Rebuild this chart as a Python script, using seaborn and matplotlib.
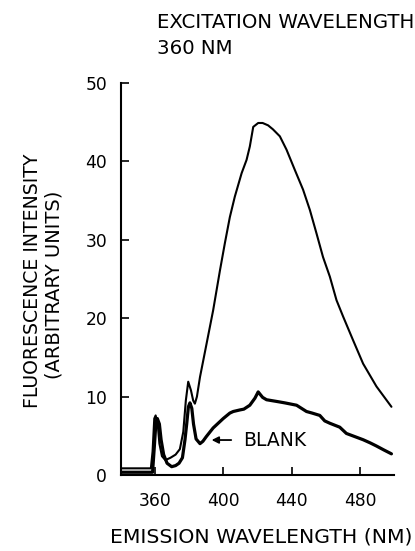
import matplotlib
matplotlib.use("Agg")
import matplotlib.pyplot as plt
import seaborn as sns
import pandas as pd

# Emission spectrum of the sample (excitation at 360 nm)
sample_nm = [340, 357.5, 358.5, 359.5, 360.3, 361.5, 362.5, 364, 366, 369, 372,
             374.5, 376.5, 378, 379.4, 381, 382.3, 383.3, 384.5, 386.3, 390.2,
             394, 398, 400.9, 403.8, 406.7, 410.7, 413.6, 415.5, 417.5, 420.4,
             423, 426.2, 429, 433.1, 437, 441.9, 446.7, 450.7, 454.6, 458.4,
             462.4, 466.3, 470.2, 476, 481.9, 489.7, 498.5]
sample_int = [0.85, 0.85, 3.0, 7.2, 7.6, 6.5, 4.0, 2.4, 1.9, 2.2, 2.6,
              3.3, 5.5, 9.5, 11.9, 10.8, 9.5, 9.1, 10.0, 12.5, 16.8,
              21.0, 26.1, 29.6, 32.9, 35.5, 38.5, 40.2, 41.9, 44.4, 44.9,
              44.9, 44.6, 44.1, 43.2, 41.5, 38.9, 36.4, 33.8, 30.8, 27.8,
              25.3, 22.3, 20.2, 17.2, 14.2, 11.3, 8.7]

# Emission spectrum of the blank
blank_nm = [340, 358.5, 359.5, 360.5, 361.3, 362.5, 363.5, 365, 367, 369.7, 372,
            374, 376, 377.5, 378.5, 379.5, 380.4, 381.5, 382.5, 384, 386.3, 388,
            390, 394, 399.9, 403.8, 405.8, 409.7, 412, 415.5, 418.5, 420.4,
            421.5, 423, 425.3, 428, 432.1, 436, 442.9, 448.7, 452, 456.5, 459.4,
            462.4, 468.2, 472.1, 477, 481.9, 486, 489.7, 494, 498.5]
blank_int = [0.35, 0.35, 3.5, 6.8, 7.2, 6.5, 4.5, 2.6, 1.5, 1.06, 1.2,
             1.5, 2.2, 4.5, 6.5, 8.7, 9.2, 8.5, 6.5, 4.6, 4.0, 4.3,
             4.9, 6.0, 7.2, 7.9, 8.1, 8.3, 8.4, 8.9, 9.8, 10.6,
             10.3, 9.9, 9.6, 9.5, 9.35, 9.2, 8.9, 8.1, 7.9, 7.6, 6.9,
             6.6, 6.1, 5.3, 4.9, 4.5, 4.1, 3.7, 3.2, 2.7]

x_ticks = [360, 400, 440, 480]
y_ticks = [0, 10, 20, 30, 40, 50]

sns.set_style("ticks")
plt.rcParams["font.family"] = ["DejaVu Sans"]
plt.rcParams["text.color"] = "black"

fig = plt.figure(figsize=(4.15, 5.51), dpi=100)
ax = fig.add_axes([121 / 415, 1 - 475 / 551, (394 - 121) / 415, (475 - 83) / 551])

sample_df = pd.DataFrame({"nm": sample_nm, "intensity": sample_int})
blank_df = pd.DataFrame({"nm": blank_nm, "intensity": blank_int})

sns.lineplot(data=sample_df, x="nm", y="intensity", ax=ax, color="black",
             linewidth=1.5, sort=False)
sns.lineplot(data=blank_df, x="nm", y="intensity", ax=ax, color="black",
             linewidth=2.3, sort=False)

ax.set_xlim(340, 500)
ax.set_ylim(0, 50)
ax.set_xticks(x_ticks)
ax.set_yticks(y_ticks)
ax.tick_params(direction="in", length=6, width=1.2, labelsize=12.3,
               colors="black", labelcolor="black")
ax.tick_params(axis="y", pad=10)
ax.tick_params(axis="x", pad=12)
sns.despine(ax=ax)
for side in ("left", "bottom"):
    ax.spines[side].set_linewidth(1.5)
    ax.spines[side].set_color("black")

ax.set_xlabel("")
ax.set_ylabel("")

fig.text(261 / 415, 1 - 537 / 551, "EMISSION WAVELENGTH (NM)", ha="center",
         va="center", fontsize=14.7, color="black")
fig.text(32 / 415, 1 - 281 / 551, "FLUORESCENCE INTENSITY", rotation=90,
         ha="center", va="center", fontsize=13.6, color="black")
fig.text(54 / 415, 1 - 285 / 551, "(ARBITRARY UNITS)", rotation=90,
         ha="center", va="center", fontsize=14.0, color="black")

fig.text(157 / 415, 1 - 23 / 551, "EXCITATION WAVELENGTH", ha="left",
         va="center", fontsize=14.2, color="black")
fig.text(157 / 415, 1 - 48 / 551, "360 NM", ha="left", va="center",
         fontsize=14.2, color="black")

ax.annotate("BLANK", xy=(393.1, 4.46), xytext=(411.4, 4.46),
            ha="left", va="center", fontsize=13.5, color="black",
            arrowprops=dict(arrowstyle="-|>", color="black", lw=1.3,
                            mutation_scale=10, shrinkA=6, shrinkB=0))

fig.savefig("out.png", dpi=100)
